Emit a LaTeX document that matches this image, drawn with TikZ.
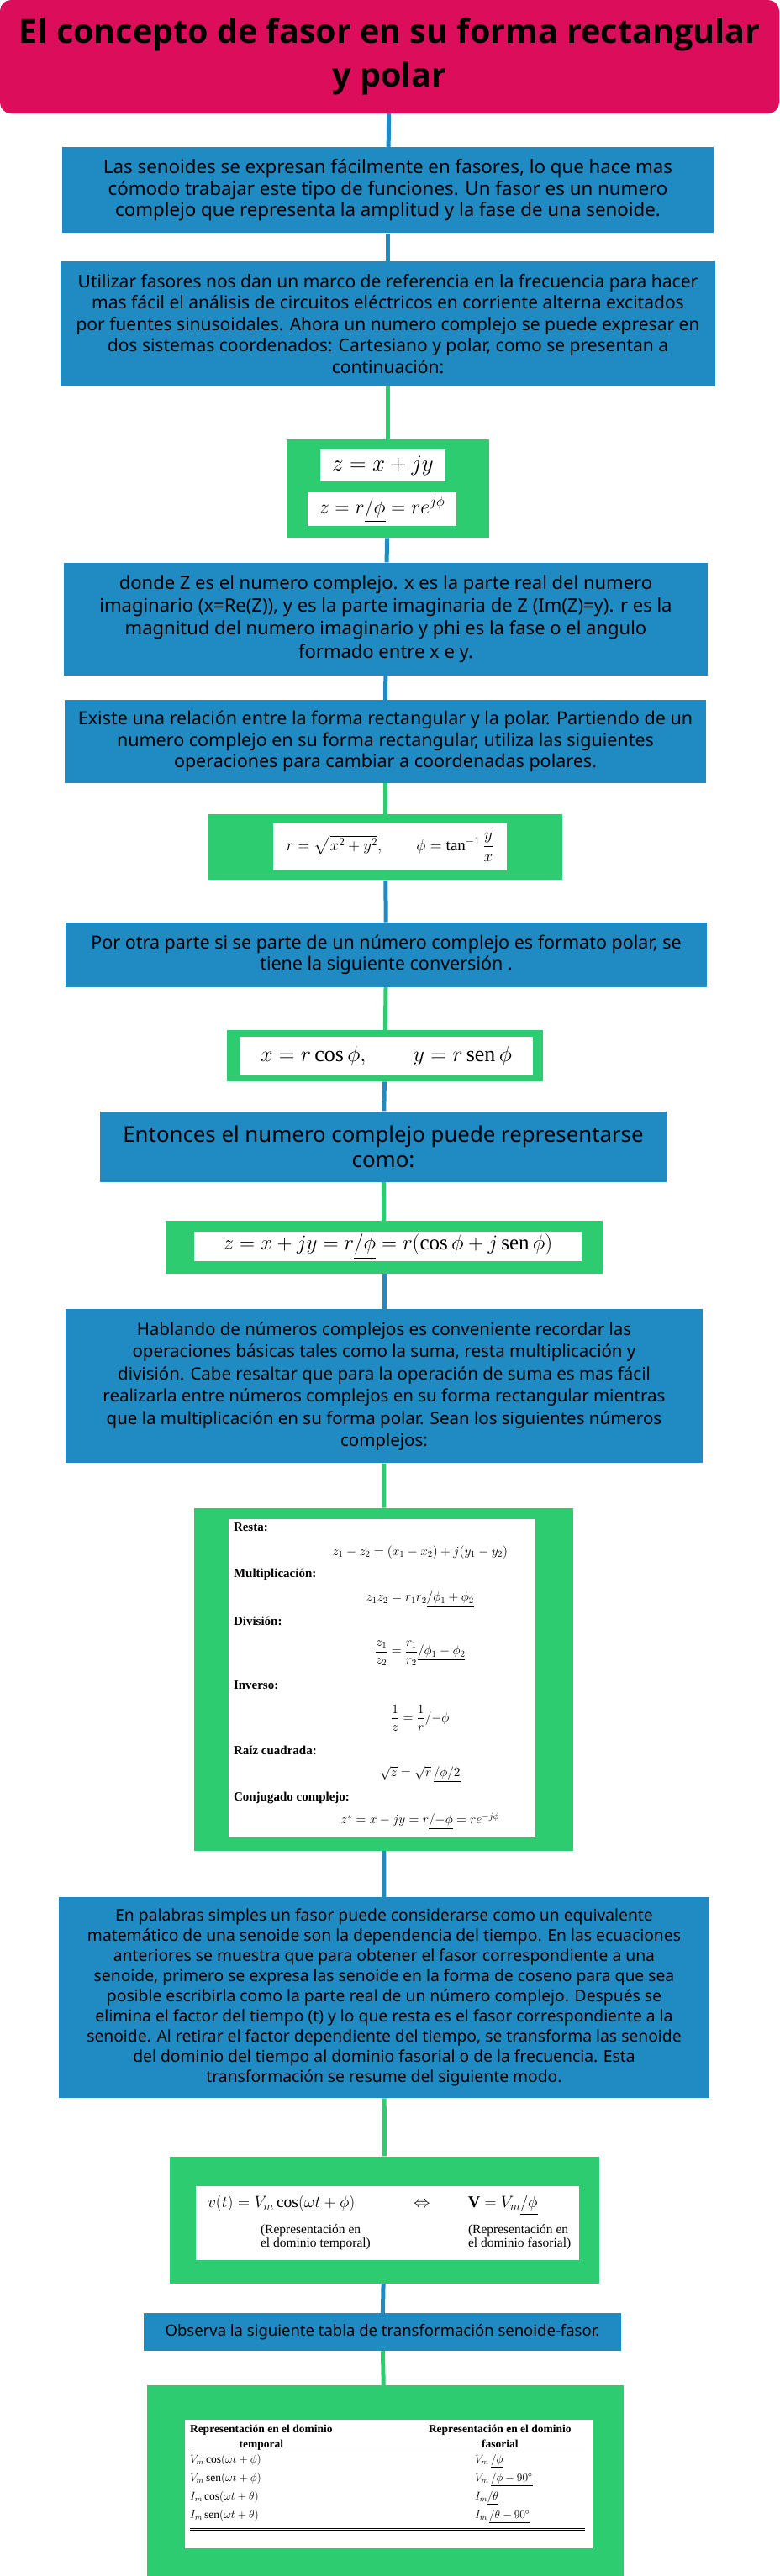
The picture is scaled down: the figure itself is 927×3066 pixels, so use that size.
\RequirePackage{fix-cm}
\documentclass[tikz,border=0pt]{standalone}
\usepackage{amsmath}
\usepackage{amssymb}
\usepackage{fontspec}
\setmainfont{Liberation Serif}
\newfontfamily\boxfont{Noto Sans}
\newfontfamily\titlefont{Open Sans}
\usepackage{tikz}
\usetikzlibrary{positioning}
\usetikzlibrary{calc}
\definecolor{mycrimson}{RGB}{220,13,90}
\definecolor{myblue}{RGB}{32,138,194}
\definecolor{mygreen}{RGB}{46,204,113}
\newcommand\fsize[2]{\fontsize{#1}{#2}\selectfont}
\newcommand\fang[1]{\underline{/#1}}
\newcommand\oprow[5]{%
  \node[oplabel] (#1) at ($(opsw.north west)+(6,-#3)$) {#2};
  \node[opeq] (#1eq) at ($(opsw.north west)+(228,-#4)$) {#5};
}

\begin{document}
\begin{tikzpicture}[x=1pt, y=1pt,
node distance=33pt,
titlebox/.style={
  rectangle,
  rounded corners=13pt,
  fill=mycrimson,
  align=center,
  inner sep=0pt,
  font=\titlefont\bfseries\fsize{39.5}{52}},
bluebox/.style={
  rectangle,
  fill=myblue,
  text=black,
  align=center,
  inner sep=0pt,
  font=\boxfont\fsize{21}{25.5}},
greenbox/.style={
  rectangle,
  fill=mygreen,
  inner sep=0pt},
whitebox/.style={
  rectangle,
  fill=white,
  inner sep=0pt,
  font=\fsize{24}{28}},
oplabel/.style={anchor=west, inner sep=0pt, font=\bfseries\fsize{15}{17}},
opeq/.style={inner sep=0pt, font=\fsize{15.5}{18}},
conb/.style={draw=myblue, line width=5pt},
cong/.style={draw=mygreen, line width=5pt}
]
\useasboundingbox (0,0) rectangle (927,-3066);

\node[titlebox, minimum width=927pt, minimum height=135pt] (title) at (463.5,-67.5)
  {El concepto de fasor en su forma rectangular\\y polar};
\node[bluebox, minimum width=775pt, minimum height=102pt, below=40pt of title, xshift=-2pt,
  font=\boxfont\fsize{22.3}{25.7}] (intro)
  {Las senoides se expresan fácilmente en fasores, lo que hace mas\\
   cómodo trabajar este tipo de funciones. Un fasor es un numero\\
   complejo que representa la amplitud y la fase de una senoide.};
\node[bluebox, minimum width=779pt, minimum height=149pt, below=33pt of intro] (phasors)
  {Utilizar fasores nos dan un marco de referencia en la frecuencia para hacer\\
   mas fácil el análisis de circuitos eléctricos en corriente alterna excitados\\
   por fuentes sinusoidales. Ahora un numero complejo se puede expresar en\\
   dos sistemas coordenados: Cartesiano y polar, como se presentan a\\
   continuación:};
\node[greenbox, minimum width=241pt, minimum height=117pt, below=63pt of phasors] (forms) {};
\node[whitebox, minimum width=149pt, minimum height=38pt, font=\fsize{27}{30}] (formrect)
  at ($(forms.center)+(-6,27.5)$) {$z = x + jy$};
\node[whitebox, minimum width=177pt, minimum height=40pt] (formpolar)
  at ($(forms.center)+(-7,-24.5)$) {$z = r\fang{\phi} = re^{j\phi}$};
\node[bluebox, minimum width=766pt, minimum height=134pt, below=29pt of forms, xshift=-2.5pt,
  font=\boxfont\fsize{22}{27.2}] (parts)
  {donde Z es el numero complejo. x es la parte real del numero\\
   imaginario (x=Re(Z)), y es la parte imaginaria de Z (Im(Z)=y). r es la\\
   magnitud del numero imaginario y phi es la fase o el angulo\\
   formado entre x e y.};
\node[bluebox, minimum width=763pt, minimum height=99pt, below=29pt of parts, xshift=-0.5pt,
  font=\boxfont\fsize{21.5}{25.3}] (relation)
  {Existe una relación entre la forma rectangular y la polar. Partiendo de un\\
   numero complejo en su forma rectangular, utiliza las siguientes\\
   operaciones para cambiar a coordenadas polares.};
\node[greenbox, minimum width=421pt, minimum height=78pt, below=37pt of relation] (topolar) {};
\node[whitebox, minimum width=278pt, minimum height=56pt, font=\fsize{19}{22}] (topolarw)
  at ($(topolar.center)+(5.5,0)$) {$r = \sqrt{x^2 + y^2}, \qquad \phi = \tan^{-1}\dfrac{y}{x}$};
\node[bluebox, minimum width=763pt, minimum height=77pt, below=50pt of topolar, xshift=1pt,
  font=\boxfont\fsize{21.5}{25}] (otherway)
  {Por otra parte si se parte de un número complejo es formato polar, se\\
   tiene la siguiente conversión .};
\node[greenbox, minimum width=376pt, minimum height=61pt, below=51pt of otherway, xshift=-1.5pt] (torect) {};
\node[whitebox, minimum width=349pt, minimum height=46pt, font=\fsize{26}{28}] (torectw)
  at ($(torect.center)+(1.5,-0.5)$) {$x = r\cos\phi, \qquad y = r\operatorname{sen}\phi$};
\node[bluebox, minimum width=674pt, minimum height=84pt, below=35pt of torect, xshift=-2pt,
  font=\boxfont\fsize{25.8}{30}] (entonces)
  {Entonces el numero complejo puede representarse\\como:};
\node[greenbox, minimum width=520pt, minimum height=63pt, below=46pt of entonces, xshift=1pt] (euler) {};
\node[whitebox, minimum width=461pt, minimum height=35pt, font=\fsize{25}{27}] (eulerw)
  at ($(euler.center)+(4.5,1)$)
  {$z = x + jy = r\fang{\phi} = r(\cos\phi + j\operatorname{sen}\phi)$};
\node[bluebox, minimum width=758pt, minimum height=183pt, below=42pt of euler,
  font=\boxfont\fsize{20.5}{26.5}] (hablando)
  {Hablando de números complejos es conveniente recordar las\\
   operaciones básicas tales como la suma, resta multiplicación y\\
   división. Cabe resaltar que para la operación de suma es mas fácil\\
   realizarla entre números complejos en su forma rectangular mientras\\
   que la multiplicación en su forma polar. Sean los siguientes números\\
   complejos:};
\node[greenbox, minimum width=451pt, minimum height=408pt, below=53pt of hablando, xshift=-0.5pt] (ops) {};
\node[whitebox, minimum width=365pt, minimum height=379pt] (opsw) at ($(ops.center)+(-2,1.5)$) {};
\oprow{resta}{Resta:}{10}{40}{$z_1 - z_2 = (x_1 - x_2) + j(y_1 - y_2)$}
\oprow{mult}{Multiplicación:}{66}{96}{$z_1z_2 = r_1r_2\fang{\phi_1 + \phi_2}$}
\oprow{divi}{División:}{122}{160}{$\dfrac{z_1}{z_2} = \dfrac{r_1}{r_2}\fang{\phi_1 - \phi_2}$}
\oprow{inver}{Inverso:}{198}{237}{$\dfrac{1}{z} = \dfrac{1}{r}\fang{{-}\phi}$}
\oprow{raiz}{Raíz cuadrada:}{276}{304}{$\sqrt{z} = \sqrt{r}\,\fang{\phi/2}$}
\oprow{conj}{Conjugado complejo:}{332}{360}{$z^* = x - jy = r\fang{{-}\phi} = re^{-j\phi}$}
\node[bluebox, minimum width=774pt, minimum height=239pt, below=55pt of ops, xshift=0.5pt,
  font=\boxfont\fsize{19.3}{24}] (palabras)
  {En palabras simples un fasor puede considerarse como un equivalente\\
   matemático de una senoide son la dependencia del tiempo. En las ecuaciones\\
   anteriores se muestra que para obtener el fasor correspondiente a una\\
   senoide, primero se expresa las senoide en la forma de coseno para que sea\\
   posible escribirla como la parte real de un número complejo. Después se\\
   elimina el factor del tiempo (t) y lo que resta es el fasor correspondiente a la\\
   senoide. Al retirar el factor dependiente del tiempo, se transforma las senoide\\
   del dominio del tiempo al dominio fasorial o de la frecuencia. Esta\\
   transformación se resume del siguiente modo.};
\node[greenbox, minimum width=511pt, minimum height=151pt, below=69pt of palabras, xshift=0.5pt] (transf) {};
\node[whitebox, minimum width=456pt, minimum height=88pt] (transfw) at ($(transf.center)+(3.5,-3.5)$) {};
\node[anchor=base west, inner sep=0pt, font=\fsize{19.5}{21}] (vtime)
  at ($(transfw.north west)+(14,-26)$) {$v(t) = V_m\cos(\omega t + \phi)$};
\node[anchor=base, inner sep=0pt, font=\fsize{19.5}{21}] (equiv)
  at ($(transfw.north west)+(269,-26)$) {$\Leftrightarrow$};
\node[anchor=base west, inner sep=0pt, font=\fsize{19.5}{21}] (vphasor)
  at ($(transfw.north west)+(324,-26)$) {$\mathbf{V} = V_m\fang{\phi}$};
\node[anchor=north west, align=left, inner sep=0pt, font=\fsize{15.5}{16.5}] (captime)
  at ($(transfw.north west)+(77,-46)$) {(Representación en\\el dominio temporal)};
\node[anchor=north west, align=left, inner sep=0pt, font=\fsize{15.5}{16.5}] (capphasor)
  at ($(transfw.north west)+(324,-46)$) {(Representación en\\el dominio fasorial)};
\node[bluebox, minimum width=568pt, minimum height=45pt, below=35pt of transf, xshift=-2.5pt,
  font=\boxfont\fsize{18.5}{22}] (observa)
  {Observa la siguiente tabla de transformación senoide-fasor.};
\node[greenbox, minimum width=567pt, minimum height=235pt, below=41pt of observa, xshift=3.5pt] (tabla) {};
\node[whitebox, minimum width=485pt, minimum height=153pt] (tablaw) at ($(tabla.center)+(4,0)$) {};
\node[anchor=north west, inner sep=0pt, font=\fsize{13.5}{15}] (tablatxt)
  at ($(tablaw.north west)+(6,-2)$)
  {\renewcommand\arraystretch{1.2}%
   \begin{tabular}{@{}p{284pt}@{}p{186pt}@{}}
   \textbf{\begin{tabular}[t]{@{}c@{}}Representación en el dominio\\temporal\end{tabular}} &
   \textbf{\begin{tabular}[t]{@{}c@{}}Representación en el dominio\\fasorial\end{tabular}}\\[1pt]
   \hline
   $V_m\cos(\omega t + \phi)$ & \hspace*{55pt}$V_m\,\fang{\phi}$\\[4pt]
   $V_m\operatorname{sen}(\omega t + \phi)$ & \hspace*{55pt}$V_m\,\fang{\phi - 90^\circ}$\\[4pt]
   $I_m\cos(\omega t + \theta)$ & \hspace*{55pt}$I_m\fang{\theta}$\\[4pt]
   $I_m\operatorname{sen}(\omega t + \theta)$ & \hspace*{55pt}$I_m\,\fang{\theta - 90^\circ}$\\[6pt]
   \hline\hline
   \end{tabular}};

\draw [conb] (title) -- (intro);
\draw [conb] (intro) -- (phasors);
\draw [cong] (phasors) -- (forms);
\draw [conb] (forms) -- (parts);
\draw [conb] (parts) -- (relation);
\draw [cong] (relation) -- (topolar);
\draw [conb] (topolar) -- (otherway);
\draw [cong] (otherway) -- (torect);
\draw [conb] (torect) -- (entonces);
\draw [cong] (entonces) -- (euler);
\draw [conb] (euler) -- (hablando);
\draw [cong] (hablando) -- (ops);
\draw [conb] (ops) -- (palabras);
\draw [cong] (palabras) -- (transf);
\draw [conb] (transf) -- (observa);
\draw [cong] (observa) -- (tabla);
\end{tikzpicture}
\end{document}
